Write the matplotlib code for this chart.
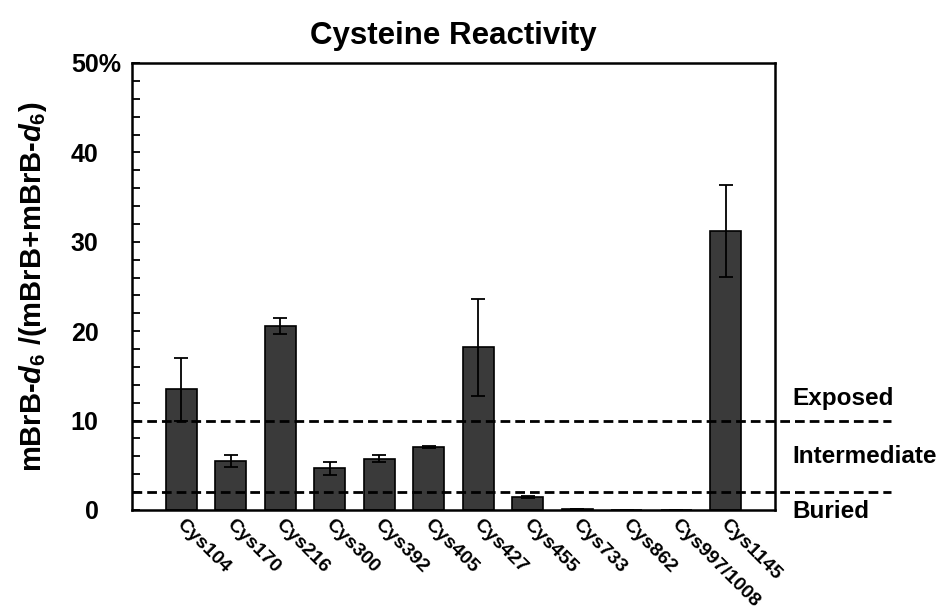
import matplotlib
matplotlib.use("Agg")
import matplotlib.pyplot as plt
import matplotlib.transforms as mtransforms
from matplotlib.ticker import MultipleLocator
import numpy as np

plt.rcParams['font.family'] = ['Liberation Sans', 'DejaVu Sans']
plt.rcParams['font.weight'] = 'bold'
plt.rcParams['mathtext.fontset'] = 'custom'
plt.rcParams['mathtext.rm'] = 'Liberation Sans:bold'
plt.rcParams['mathtext.it'] = 'Liberation Sans:bold:italic'
plt.rcParams['mathtext.bf'] = 'Liberation Sans:bold'

# data
residues = ["Cys104", "Cys170", "Cys216", "Cys300", "Cys392", "Cys405",
            "Cys427", "Cys455", "Cys733", "Cys862", "Cys997/1008", "Cys1145"]
reactivity = [13.5, 5.5, 20.6, 4.65, 5.75, 7.05, 18.2, 1.45, 0.15, 0.0, 0.0, 31.2]
err = [3.5, 0.65, 0.9, 0.7, 0.4, 0.1, 5.4, 0.1, 0.0, 0.0, 0.0, 5.1]
thresholds = [10, 2]
zones = ["Exposed", "Intermediate", "Buried"]
zone_y = [12.5, 6.0, -0.2]
yticks = [0, 10, 20, 30, 40, 50]
ytick_labels = ["0", "10", "20", "30", "40", "50%"]

fig = plt.figure(figsize=(9.4, 6.14), dpi=100)
ax = fig.add_axes([0.1404, 0.1694, 0.6841, 0.728])

x = np.arange(1, len(residues) + 1)
ax.bar(x, reactivity, width=0.63, color="#3a3a3a", edgecolor="black", linewidth=1.2, zorder=2)
ax.errorbar(x, reactivity, yerr=err, fmt="none", ecolor="black", elinewidth=1.3,
            capsize=5, capthick=1.3, zorder=3)

for t in thresholds:
    ax.plot([0, 1.18], [t, t], transform=ax.get_yaxis_transform(), color="black",
            linestyle=(0, (3.5, 1.8)), linewidth=2.0, clip_on=False, zorder=4)

for lbl, yy in zip(zones, zone_y):
    ax.text(1.027, yy, lbl, transform=ax.get_yaxis_transform(), fontsize=17.5,
            fontweight="bold", ha="left", va="center")

ax.set_xlim(0, 13)
ax.set_ylim(0, 50)
ax.tick_params(axis="y", which="both", direction="in", length=6, width=1.3, labelsize=18, pad=8)
ax.tick_params(axis="x", length=0, labelsize=14, pad=6)
ax.yaxis.set_minor_locator(MultipleLocator(2))
ax.set_yticks(yticks)
ax.set_yticklabels(ytick_labels, fontweight="bold")
# Excel-style "0%" format: numbers without the sign still leave room for it
shift = mtransforms.ScaledTranslation(-16 / 72, 0, fig.dpi_scale_trans)
for lab in ax.get_yticklabels():
    if not lab.get_text().endswith("%"):
        lab.set_transform(lab.get_transform() + shift)

ax.set_xticks(x)
ax.set_xticklabels(residues, rotation=-45, ha="left", va="top", rotation_mode="anchor",
                   fontweight="bold")
xshift = mtransforms.ScaledTranslation(3 / 72, 2 / 72, fig.dpi_scale_trans)
for lab in ax.get_xticklabels():
    lab.set_transform(lab.get_transform() + xshift)

for sp in ax.spines.values():
    sp.set_linewidth(1.8)

ax.set_ylabel(r"mBrB-$\mathit{d}_6$ /(mBrB+mBrB-$\mathit{d}_6$)", fontsize=21, fontweight="bold", labelpad=16)
ax.set_title("Cysteine Reactivity", fontsize=22.5, fontweight="bold", pad=14)

fig.savefig("out.png", dpi=100)
